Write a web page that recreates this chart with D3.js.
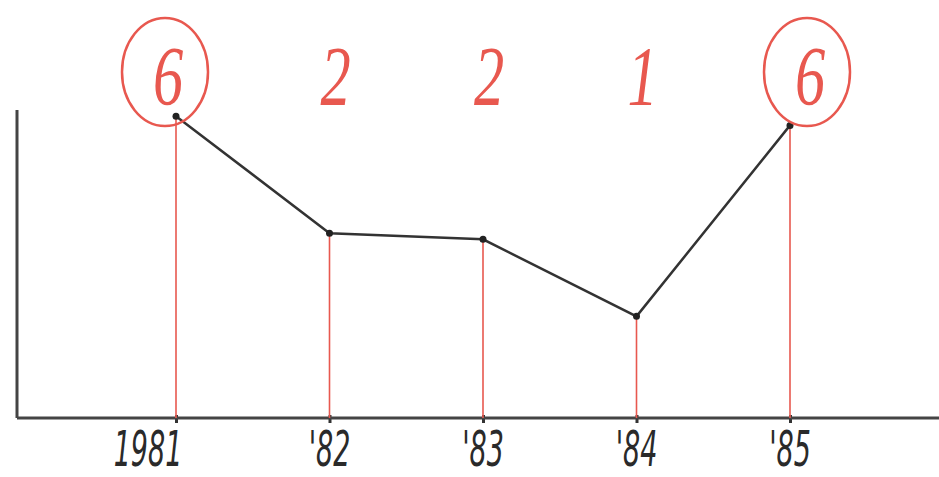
<!DOCTYPE html>
<html>
<head>
<meta charset="utf-8">
<script src="https://cdn.jsdelivr.net/npm/d3@7"></script>
<style>
  body { margin: 0; background: #fff; }
  svg { display: block; }
</style>
</head>
<body>
<svg id="chart"></svg>
<script>
// data
var years = [1981, 1982, 1983, 1984, 1985];
var tickLabels = ["1981", "'82", "'83", "'84", "'85"];
var values = [98, 60, 58, 33, 95];
var counts = ["6", "2", "2", "1", "6"];
var circled = [true, false, false, false, true];

var width = 939, height = 477;
var red = "#e8584f";
var ink = "#333";

document.addEventListener("DOMContentLoaded", function () {
  var svg = d3.select("#chart").attr("width", width).attr("height", height);

  var x = d3.scalePoint().domain(years).range([176, 790]);
  var y = d3.scaleLinear().domain([0, 100]).range([418, 110]);

  // y axis (no ticks, just the line)
  svg.append("line")
    .attr("x1", 17).attr("x2", 17)
    .attr("y1", y(100)).attr("y2", y(0))
    .style("stroke", "#444").style("stroke-width", 3);

  // x axis
  var xAxis = svg.append("g")
    .attr("transform", "translate(0," + y(0) + ")")
    .call(d3.axisBottom(x).tickSize(6).tickFormat(""));
  xAxis.select(".domain").remove();
  xAxis.selectAll(".tick line")
    .attr("y1", -3).attr("y2", 5)
    .style("stroke", "#333").style("stroke-width", 3);
  xAxis.append("line")
    .attr("x1", 17).attr("x2", width)
    .style("stroke", "#444").style("stroke-width", 3);

  // tick labels, narrow handwriting-ish
  svg.append("g")
    .selectAll("text")
    .data(years)
    .enter()
    .append("text")
    .attr("transform", function (d) {
      var cx = x(d) + (d === 1981 ? -28 : 0);
      return "translate(" + cx + ",466) scale(0.6,1)";
    })
    .attr("text-anchor", "middle")
    .style("font-family", "'Liberation Sans Narrow', 'DejaVu Sans Condensed', sans-serif")
    .style("font-style", "italic")
    .style("font-size", "50px")
    .style("fill", "#2a2a2a")
    .text(function (d, i) { return tickLabels[i]; });

  // red drop lines
  svg.append("g")
    .selectAll("line")
    .data(years)
    .enter()
    .append("line")
    .attr("x1", function (d) { return x(d); })
    .attr("x2", function (d) { return x(d); })
    .attr("y1", function (d, i) { return y(values[i]); })
    .attr("y2", y(0))
    .style("stroke", red)
    .style("stroke-width", 1.6);

  // black line
  var line = d3.line()
    .x(function (d) { return x(d); })
    .y(function (d, i) { return y(values[i]); });
  svg.append("path")
    .datum(years)
    .attr("d", line)
    .style("fill", "none")
    .style("stroke", ink)
    .style("stroke-width", 2.5);

  svg.append("g")
    .selectAll("circle")
    .data(years)
    .enter()
    .append("circle")
    .attr("cx", function (d) { return x(d); })
    .attr("cy", function (d, i) { return y(values[i]); })
    .attr("r", 3.5)
    .style("fill", "#222");

  // red counts on top
  var labels = svg.append("g")
    .selectAll("g")
    .data(years)
    .enter()
    .append("g")
    .attr("transform", function (d) {
      var dx = d === 1981 ? -8 : d === 1985 ? 20 : 6;
      return "translate(" + (x(d) + dx) + ",78)";
    });

  labels.append("text")
    .attr("transform", "scale(0.72,1)")
    .attr("y", 27)
    .attr("text-anchor", "middle")
    .style("font-family", "'Liberation Serif', serif")
    .style("font-style", "italic")
    .style("font-size", "84px")
    .style("fill", red)
    .text(function (d, i) { return counts[i]; });

  labels.filter(function (d, i) { return circled[i]; })
    .append("ellipse")
    .attr("cx", -3)
    .attr("cy", -6)
    .attr("rx", 43)
    .attr("ry", 54)
    .style("fill", "none")
    .style("stroke", red)
    .style("stroke-width", 2.5);
});
</script>
</body>
</html>
